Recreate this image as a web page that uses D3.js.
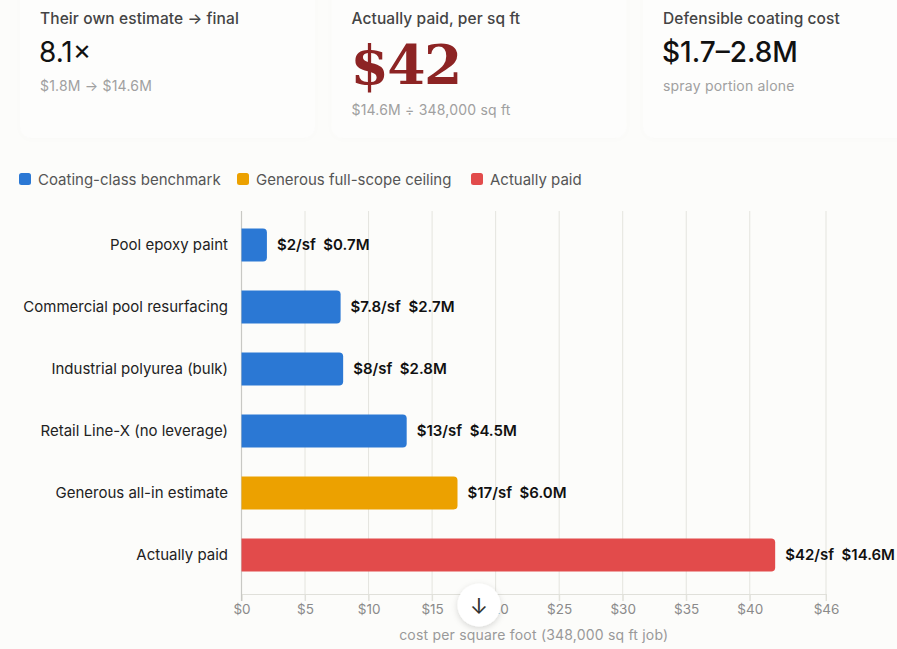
<!DOCTYPE html>
<html>
<head>
<meta charset="utf-8">
<script src="https://cdn.jsdelivr.net/npm/d3@7"></script>
<style>
  html, body { margin: 0; padding: 0; background: #fcfcfa; }
  body { width: 897px; height: 649px; overflow: hidden; font-family: Inter, "Noto Sans", sans-serif; }
</style>
</head>
<body>
<div id="chart"></div>
<script>
// KPI cards
const cardTitles = ["Their own estimate \u2192 final", "Actually paid, per sq ft", "Defensible coating cost"];
const cardValues = ["8.1\u00d7", "$42", "$1.7\u20132.8M"];
const cardNotes = ["$1.8M \u2192 $14.6M", "$14.6M \u00f7 348,000 sq ft", "spray portion alone"];

// bars
const categories = ["Pool epoxy paint", "Commercial pool resurfacing", "Industrial polyurea (bulk)",
  "Retail Line-X (no leverage)", "Generous all-in estimate", "Actually paid"];
const perSqFt = [2, 7.8, 8, 13, 17, 42];
const totals = ["$0.7M", "$2.7M", "$2.8M", "$4.5M", "$6.0M", "$14.6M"];
const perLabels = ["$2", "$7.8", "$8", "$13", "$17", "$42"];
const groups = ["bench", "bench", "bench", "bench", "ceiling", "paid"];

// legend
const legendKeys = ["bench", "ceiling", "paid"];
const legendNames = ["Coating-class benchmark", "Generous full-scope ceiling", "Actually paid"];
const tickValues = [0, 5, 10, 15, 20, 25, 30, 35, 40, 46];

const W = 897, H = 649;
const color = d3.scaleOrdinal().domain(legendKeys).range(["#2b78d4", "#eca100", "#e24b4b"]);

const svg = d3.select("#chart").append("svg")
  .attr("width", W).attr("height", H);

const defs = svg.append("defs");
const sh = defs.append("filter").attr("id", "shadow").attr("x", "-50%").attr("y", "-50%")
  .attr("width", "200%").attr("height", "200%");
sh.append("feDropShadow").attr("dx", 0).attr("dy", 2).attr("stdDeviation", 3)
  .attr("flood-color", "#000").attr("flood-opacity", 0.15);
const soft = defs.append("filter").attr("id", "soft").attr("x", "-10%").attr("y", "-10%")
  .attr("width", "120%").attr("height", "130%");
soft.append("feDropShadow").attr("dx", 0).attr("dy", 1).attr("stdDeviation", 3)
  .attr("flood-color", "#000").attr("flood-opacity", 0.012);

// cards
const cardX = d3.scalePoint().domain(d3.range(3)).range([20, 643]);
const cards = svg.append("g").selectAll("g")
  .data(cardTitles).enter().append("g")
  .attr("transform", (d, i) => `translate(${cardX(i)},0)`);

cards.append("rect")
  .attr("x", 0).attr("y", -20).attr("width", 295).attr("height", 158).attr("rx", 12)
  .attr("fill", "#fdfdfc").attr("filter", "url(#soft)");

cards.append("text")
  .attr("x", 20).attr("y", 24)
  .attr("font-size", 15.5).attr("font-weight", 500).attr("fill", "#444")
  .attr("letter-spacing", 0.1)
  .text(d => d);

cards.append("text")
  .attr("x", 19)
  .attr("y", (d, i) => i === 1 ? 84 : 62)
  .attr("font-family", (d, i) => i === 1 ? "'DejaVu Serif', 'Liberation Serif', serif" : null)
  .attr("font-size", (d, i) => i === 1 ? 55 : 28)
  .attr("font-weight", (d, i) => i === 1 ? 700 : (i === 2 ? 500 : 400))
  .attr("fill", (d, i) => i === 1 ? "#8d2424" : "#111")
  .attr("letter-spacing", (d, i) => i === 1 ? -1.5 : 0)
  .text((d, i) => cardValues[i]);

cards.append("text")
  .attr("x", 20)
  .attr("y", (d, i) => i === 1 ? 115 : 91)
  .attr("font-size", 14).attr("fill", "#a0a0a0")
  .attr("letter-spacing", 0.2)
  .text((d, i) => cardNotes[i]);

// legend
const legX = d3.scaleOrdinal().domain(legendKeys).range([19, 237, 471]);
const leg = svg.append("g").selectAll("g")
  .data(legendKeys).enter().append("g")
  .attr("transform", d => `translate(${legX(d)},173)`);
leg.append("rect").attr("width", 12).attr("height", 12).attr("rx", 2.5)
  .attr("fill", d => color(d));
leg.append("text").attr("x", 19).attr("y", 11.5)
  .attr("font-size", 15).attr("fill", "#555")
  .text((d, i) => legendNames[i]);

// chart area
const x = d3.scaleLinear().domain([0, 46]).range([241.5, 826]);
const y = d3.scaleBand().domain(categories).range([214, 586]).paddingInner(0.47).paddingOuter(0.235);

const plot = svg.append("g");

// grid
plot.append("g").selectAll("line")
  .data(tickValues.slice(1)).enter().append("line")
  .attr("x1", d => x(d)).attr("x2", d => x(d))
  .attr("y1", 211).attr("y2", 601)
  .attr("stroke", "#e4e4de").attr("stroke-width", 1);

// x axis
const xAxis = plot.append("g")
  .attr("transform", "translate(0,594)")
  .call(d3.axisBottom(x).tickValues(tickValues).tickFormat(d => "$" + d).tickSize(7).tickPadding(3));
xAxis.select(".domain").attr("stroke", "#e0e0da");
xAxis.selectAll(".tick line").attr("stroke", "#e0e0da");
xAxis.selectAll("text").attr("font-size", 13.5).attr("fill", "#8a8a8a")
  .attr("font-family", "Inter, 'Noto Sans', sans-serif");

// y axis line
plot.append("line")
  .attr("x1", x(0)).attr("x2", x(0)).attr("y1", 211).attr("y2", 601)
  .attr("stroke", "#c8c8c4").attr("stroke-width", 1.2);

// bars with rounded right end
const r = 4;
function barPath(d, i) {
  const x0 = x(0), x1 = x(d), y0 = y(categories[i]), h = y.bandwidth();
  return `M${x0},${y0}H${x1 - r}Q${x1},${y0} ${x1},${y0 + r}V${y0 + h - r}Q${x1},${y0 + h} ${x1 - r},${y0 + h}H${x0}Z`;
}
plot.append("g").selectAll("path")
  .data(perSqFt).enter().append("path")
  .attr("d", barPath)
  .attr("fill", (d, i) => color(groups[i]));

// value labels
plot.append("g").selectAll("text")
  .data(perSqFt).enter().append("text")
  .attr("x", d => x(d) + 10)
  .attr("y", (d, i) => y(categories[i]) + y.bandwidth() / 2)
  .attr("dy", "0.35em")
  .attr("font-size", 15).attr("font-weight", 600).attr("fill", "#111")
  .attr("xml:space", "preserve")
  .text((d, i) => perLabels[i] + "/sf  " + totals[i]);

// category labels
plot.append("g").selectAll("text")
  .data(categories).enter().append("text")
  .attr("x", 228)
  .attr("y", d => y(d) + y.bandwidth() / 2)
  .attr("dy", "0.35em")
  .attr("text-anchor", "end")
  .attr("font-size", 15).attr("fill", "#222")
  .text(d => d);

// axis title
svg.append("text")
  .attr("x", (x.range()[0] + x.range()[1]) / 2).attr("y", 640)
  .attr("text-anchor", "middle")
  .attr("font-size", 14).attr("fill", "#999")
  .attr("letter-spacing", 0.2)
  .text("cost per square foot (348,000 sq ft job)");

// scroll button
const btn = svg.append("g").attr("transform", "translate(479,605)");
btn.append("circle").attr("r", 21.5).attr("fill", "#fff").attr("filter", "url(#shadow)");
btn.append("text").attr("y", 1).attr("dy", "0.35em").attr("text-anchor", "middle")
  .attr("font-size", 22).attr("fill", "#333").text("\u2193");
</script>
</body>
</html>
